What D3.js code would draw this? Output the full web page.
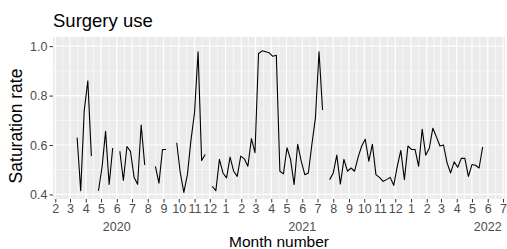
<!DOCTYPE html>
<html>
<head>
<meta charset="utf-8">
<script src="https://cdn.jsdelivr.net/npm/d3@7"></script>
<style>
  body { margin: 0; background: #fff; }
  text { font-family: "Liberation Sans", Arial, sans-serif; }
</style>
</head>
<body>
<svg id="chart" width="507" height="249"></svg>
<script>
//weekly saturation rate, first week starts here, null = no data that week
var firstWeek = "2020-03-15";
var rates = [
  0.63, 0.415, 0.739, 0.86, 0.555,
  null,
  0.415, 0.51, 0.655, 0.44, 0.588,
  null,
  0.575, 0.457, 0.594, 0.574, 0.47, 0.441, 0.681, 0.519,
  null, null,
  0.514, 0.446, 0.582, 0.582,
  null, null,
  0.609, 0.487, 0.408, 0.48, 0.62, 0.73, 0.977, 0.537, 0.562,
  null,
  0.433, 0.415, 0.542, 0.487, 0.467, 0.551, 0.494, 0.473, 0.555, 0.544,
  0.514, 0.626, 0.569, 0.97, 0.981, 0.977, 0.973, 0.959, 0.963, 0.494,
  0.483, 0.589, 0.542, 0.44, 0.603, 0.535, 0.48, 0.487, 0.603, 0.711,
  0.977, 0.742,
  null,
  0.46, 0.487, 0.559, 0.442, 0.542, 0.494, 0.507, 0.494, 0.551, 0.596,
  0.623, 0.535, 0.603, 0.48, 0.469, 0.453, 0.46, 0.469, 0.437, 0.514,
  0.578, 0.46, 0.596, 0.582, 0.582, 0.514, 0.664, 0.559, 0.587, 0.668,
  0.633, 0.596, 0.6, 0.528, 0.487, 0.532, 0.51, 0.546, 0.546, 0.473,
  0.521, 0.518, 0.507, 0.592
];

//axis ticks
var yTicks = [0.4, 0.6, 0.8, 1.0];
var firstTickMonth = "2020-02-01",
    lastTickMonth = "2022-07-01";
var yearLabels = ["2020", "2021", "2022"];
var yearLabelMonth = 5; //june, zero based

var title = "Surgery use",
    xTitle = "Month number",
    yTitle = "Saturation rate";

//panel position
var panel = {left: 53, right: 505, top: 37, bottom: 199};

var svg = d3.select("#chart");

var parse = d3.utcParse("%Y-%m-%d");
var start = parse(firstWeek);
var data = rates.map(function(v, i) {
    return {date: d3.utcDay.offset(start, 7 * i), value: v};
});

//scales
var x = d3.scaleUtc()
    .domain([new Date(Date.UTC(2020, 0, 27, 12)), new Date(Date.UTC(2022, 6, 5))])
    .range([panel.left, panel.right]);

var y = d3.scaleLinear()
    .domain([0.3816, 1.037])
    .range([panel.bottom, panel.top]);

var months = d3.utcMonth.range(parse(firstTickMonth), d3.utcDay.offset(parse(lastTickMonth), 1));

//minor breaks halfway between months
var xMinor = [];
for (var i = 0; i < months.length - 1; i++) {
    xMinor.push(new Date((+months[i] + +months[i + 1]) / 2));
}
var yMinor = [];
for (var j = 0; j < yTicks.length - 1; j++) {
    yMinor.push((yTicks[j] + yTicks[j + 1]) / 2);
}

//panel background
svg.append("rect")
    .attr("x", panel.left)
    .attr("y", panel.top)
    .attr("width", panel.right - panel.left)
    .attr("height", panel.bottom - panel.top)
    .attr("fill", "#ebebeb");

var grid = svg.append("g").attr("stroke", "#fff");

grid.selectAll(".ymin").data(yMinor).enter().append("line")
    .attr("x1", panel.left).attr("x2", panel.right)
    .attr("y1", d => y(d)).attr("y2", d => y(d))
    .attr("stroke-width", 0.6);

grid.selectAll(".xmin").data(xMinor).enter().append("line")
    .attr("y1", panel.top).attr("y2", panel.bottom)
    .attr("x1", d => x(d)).attr("x2", d => x(d))
    .attr("stroke-width", 0.6);

grid.selectAll(".ymaj").data(yTicks).enter().append("line")
    .attr("x1", panel.left).attr("x2", panel.right)
    .attr("y1", d => y(d)).attr("y2", d => y(d))
    .attr("stroke-width", 1.2);

grid.selectAll(".xmaj").data(months).enter().append("line")
    .attr("y1", panel.top).attr("y2", panel.bottom)
    .attr("x1", d => x(d)).attr("x2", d => x(d))
    .attr("stroke-width", 1.2);

//the line, broken where weeks are missing
var line = d3.line()
    .defined(d => d.value != null)
    .x(d => x(d.date))
    .y(d => y(d.value));

svg.append("path")
    .datum(data)
    .attr("fill", "none")
    .attr("stroke", "#000")
    .attr("stroke-width", 1.1)
    .attr("stroke-linejoin", "round")
    .attr("d", line);

//y axis
var yAxis = svg.append("g")
    .attr("transform", "translate(" + panel.left + ",0)")
    .call(d3.axisLeft(y).tickValues(yTicks).tickFormat(d3.format(".1f")).tickSize(3.5).tickPadding(2));
yAxis.select(".domain").remove();
yAxis.selectAll("line").attr("stroke", "#333");
yAxis.selectAll("text")
    .attr("fill", "#4d4d4d")
    .style("font-size", "12.5px")
    .style("font-family", "Liberation Sans, Arial, sans-serif");

//x axis
var xAxis = svg.append("g")
    .attr("transform", "translate(0," + panel.bottom + ")")
    .call(d3.axisBottom(x).tickValues(months).tickFormat(d => d.getUTCMonth() + 1).tickSize(3.5).tickPadding(2));
xAxis.select(".domain").remove();
xAxis.selectAll("line").attr("stroke", "#333");
xAxis.selectAll("text")
    .attr("fill", "#4d4d4d")
    .style("font-size", "12.5px")
    .style("font-family", "Liberation Sans, Arial, sans-serif");

//year under june of each year
svg.selectAll(".year").data(yearLabels).enter().append("text")
    .attr("x", d => x(new Date(Date.UTC(+d, yearLabelMonth, 1))))
    .attr("y", 231)
    .attr("text-anchor", "middle")
    .attr("fill", "#4d4d4d")
    .style("font-size", "12.5px")
    .text(d => d);

//titles
svg.append("text")
    .attr("x", panel.left)
    .attr("y", 27)
    .style("font-size", "18.5px")
    .text(title);

svg.append("text")
    .attr("x", (panel.left + panel.right) / 2)
    .attr("y", 247)
    .attr("text-anchor", "middle")
    .style("font-size", "15.5px")
    .text(xTitle);

svg.append("text")
    .attr("transform", "translate(22,126) rotate(-90)")
    .attr("text-anchor", "middle")
    .style("font-size", "17.5px")
    .text(yTitle);
</script>
</body>
</html>
